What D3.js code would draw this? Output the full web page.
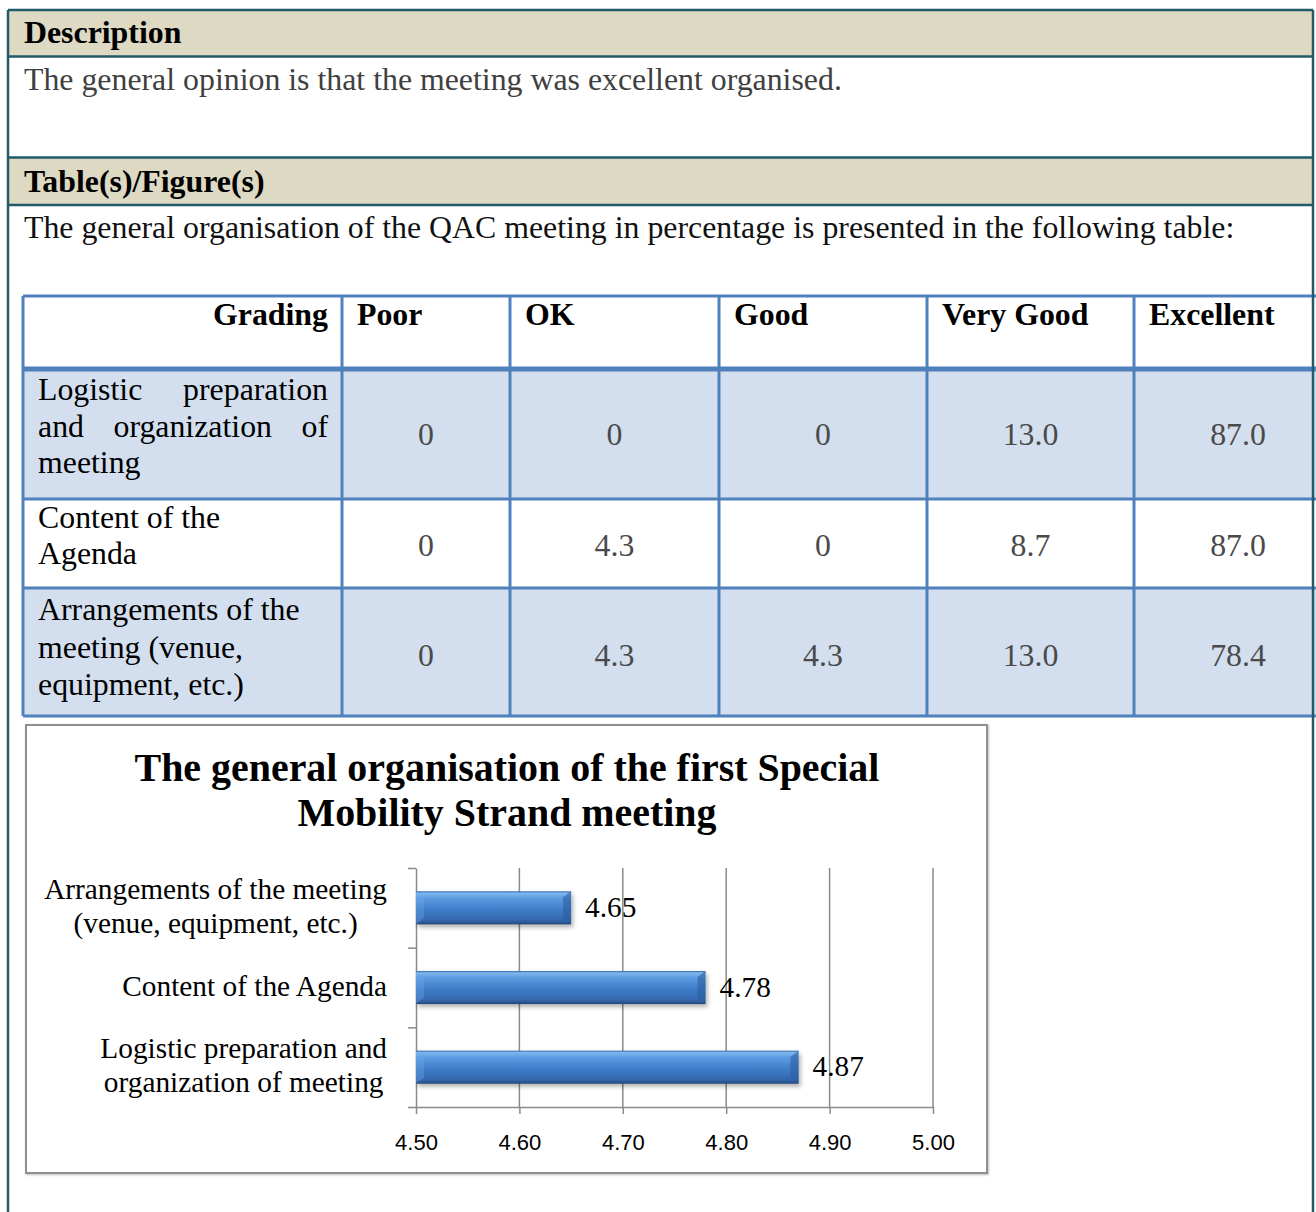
<!DOCTYPE html>
<html>
<head>
<meta charset="utf-8">
<script src="https://cdn.jsdelivr.net/npm/d3@7"></script>
<style>
  body { margin: 0; background: #fff; }
  svg { display: block; }
</style>
</head>
<body>
<script>
// table data (percentages)
const grades = ["Poor", "OK", "Good", "Very Good", "Excellent"]
const rowLabels = [
  ["Logistic preparation", "and organization of", "meeting"],
  ["Content of the", "Agenda"],
  ["Arrangements of the", "meeting (venue,", "equipment, etc.)"]
]
const logisticPct = [0, 0, 0, 13.0, 87.0]
const agendaPct = [0, 4.3, 0, 8.7, 87.0]
const arrangementsPct = [0, 4.3, 4.3, 13.0, 78.4]

// chart data (mean grade), bottom to top
const chartCategories = [
  ["Logistic preparation and", "organization of meeting"],
  ["Content of the Agenda"],
  ["Arrangements of the meeting", "(venue, equipment, etc.)"]
]
const chartValues = [4.87, 4.78, 4.65]
const xTicks = [4.50, 4.60, 4.70, 4.80, 4.90, 5.00]
const chartTitle = ["The general organisation of the first Special", "Mobility Strand meeting"]

const descText = "The general opinion is that the meeting was excellent organised."
const introText = "The general organisation of the QAC meeting in percentage is presented in the following table:"

const serif = "'Liberation Serif', 'Times New Roman', serif"
const sans = "'Liberation Sans', Arial, sans-serif"
const teal = "#215a69"
const beige = "#ddd9c3"
const tblue = "#4f81bd"

var svg = d3.select("body").append("svg")
  .attr("width", 1316)
  .attr("height", 1212)

var defs = svg.append("defs")

// pick a font size so a sample string gets the width seen in the picture
function fitSize(str, target, weight) {
  var t = svg.append("text")
    .style("font-family", serif).style("font-weight", weight || "normal").style("font-size", "100px")
    .text(str)
  var w = t.node().getComputedTextLength()
  t.remove()
  return 100 * target / w
}
var bodySize = fitSize(descText, 818)
var titleSize = fitSize(chartTitle[0], 745, "bold")
var labelSize = fitSize(chartCategories[2][0], 343)

function serifText(sel, size, weight) {
  return sel.style("font-family", serif).style("font-size", size + "px").style("font-weight", weight || "normal")
}

// ---- document frame ----
svg.append("rect").attr("x", 9).attr("y", 11).attr("width", 1303).attr("height", 45).attr("fill", beige)
svg.append("rect").attr("x", 9).attr("y", 158).attr("width", 1303).attr("height", 47).attr("fill", beige)

serifText(svg.append("text"), bodySize, "bold")
  .attr("x", 24).attr("y", 43)
  .text("Description")

serifText(svg.append("text"), bodySize)
  .attr("x", 24).attr("y", 90).attr("fill", "#404040")
  .text(descText)

serifText(svg.append("text"), bodySize, "bold")
  .attr("x", 24).attr("y", 192)
  .text("Table(s)/Figure(s)")

serifText(svg.append("text"), bodySize)
  .attr("x", 24).attr("y", 238).attr("fill", "#111")
  .text(introText)

// ---- table ----
var colEdges = [23, 342, 510, 719, 927, 1134, 1342]
var rowEdges = [296, 369, 499, 588, 716]
var rowFills = ["#d3dfee", "#ffffff", "#d3dfee"]
var rowValues = [logisticPct, agendaPct, arrangementsPct]
var fmt = function(v) { return v === 0 ? "0" : v.toFixed(1) }

var tbl = svg.append("g")

rowValues.forEach(function(vals, r) {
  tbl.append("rect")
    .attr("x", colEdges[0]).attr("y", rowEdges[r + 1])
    .attr("width", colEdges[6] - colEdges[0]).attr("height", rowEdges[r + 2] - rowEdges[r + 1])
    .attr("fill", rowFills[r])
})

// header
serifText(tbl.append("text"), bodySize, "bold")
  .attr("x", 328).attr("y", 325).attr("text-anchor", "end")
  .text("Grading")
serifText(tbl.selectAll(".hdr")
  .data(grades)
  .enter()
  .append("text"), bodySize, "bold")
    .attr("x", function(d, i) { return colEdges[i + 1] + 15 })
    .attr("y", 325)
    .text(function(d) { return d })

// row labels (first row is justified in the source)
var lineBase = [[400, 437, 473], [528, 564], [620, 658, 695]]
rowLabels.forEach(function(lines, r) {
  lines.forEach(function(line, k) {
    if (r == 0 && k < 2) {
      var words = line.split(" ")
      var ts = words.map(function(w) {
        return serifText(tbl.append("text"), bodySize).attr("y", lineBase[r][k]).attr("fill", "#000").text(w)
      })
      var ws = ts.map(function(t) { return t.node().getComputedTextLength() })
      var gap = (328 - 38 - d3.sum(ws)) / (words.length - 1)
      var cx = 38
      ts.forEach(function(t, j) { t.attr("x", cx); cx += ws[j] + gap })
    } else {
      serifText(tbl.append("text"), bodySize)
        .attr("x", 38).attr("y", lineBase[r][k]).attr("fill", "#000")
        .text(line)
    }
  })
})

// values
var valBase = [445, 556, 666]
rowValues.forEach(function(vals, r) {
  serifText(tbl.selectAll(".v" + r)
    .data(vals)
    .enter()
    .append("text"), bodySize)
      .attr("x", function(d, i) { return (colEdges[i + 1] + colEdges[i + 2]) / 2 })
      .attr("y", valBase[r])
      .attr("text-anchor", "middle")
      .attr("fill", "#4a4a4a")
      .text(fmt)
})

// grid lines
colEdges.forEach(function(x) {
  tbl.append("line").attr("x1", x).attr("x2", x).attr("y1", rowEdges[0]).attr("y2", rowEdges[4])
    .attr("stroke", tblue).attr("stroke-width", 3)
})
rowEdges.forEach(function(y, i) {
  tbl.append("line").attr("x1", colEdges[0]).attr("x2", colEdges[6]).attr("y1", y).attr("y2", y)
    .attr("stroke", tblue).attr("stroke-width", i == 1 ? 5 : 3)
})

// ---- chart ----
var shadow = defs.append("filter").attr("id", "shadow")
  .attr("x", "-5%").attr("y", "-20%").attr("width", "115%").attr("height", "160%")
shadow.append("feDropShadow").attr("dx", 2).attr("dy", 3).attr("stdDeviation", 2)
  .attr("flood-color", "#000").attr("flood-opacity", 0.3)

var boxShadow = defs.append("filter").attr("id", "boxshadow")
  .attr("x", "-2%").attr("y", "-2%").attr("width", "104%").attr("height", "104%")
boxShadow.append("feDropShadow").attr("dx", 1).attr("dy", 1).attr("stdDeviation", 1)
  .attr("flood-color", "#000").attr("flood-opacity", 0.25)

var grad = defs.append("linearGradient").attr("id", "barGrad")
  .attr("x1", 0).attr("y1", 0).attr("x2", 0).attr("y2", 1)
var stops = [[0, "#2f67ad"], [0.06, "#7fb8ee"], [0.2, "#5d9ce2"], [0.55, "#3e7cc8"], [0.85, "#3569b0"], [0.94, "#2b5a97"], [1, "#1d4273"]]
stops.forEach(function(s) {
  grad.append("stop").attr("offset", s[0]).attr("stop-color", s[1])
})

svg.append("rect")
  .attr("x", 26).attr("y", 725).attr("width", 961).attr("height", 448)
  .attr("fill", "#fff").attr("stroke", "#8f8f8f").attr("stroke-width", 2)
  .attr("filter", "url(#boxshadow)")

var title = serifText(svg.append("text"), titleSize, "bold")
  .attr("text-anchor", "middle")
title.selectAll("tspan")
  .data(chartTitle)
  .enter()
  .append("tspan")
    .attr("x", 507)
    .attr("y", function(d, i) { return 781 + i * 45 })
    .text(function(d) { return d })

var x = d3.scaleLinear()
  .domain([4.5, 5.0])
  .range([416, 933])

var y = d3.scaleBand()
  .domain(d3.range(chartValues.length).reverse())
  .range([868, 1107])
  .paddingInner(0.585)
  .paddingOuter(0.2925)

// vertical gridlines
svg.append("g")
  .selectAll("line")
  .data(xTicks.slice(1))
  .enter()
  .append("line")
    .attr("x1", function(d) { return x(d) }).attr("x2", function(d) { return x(d) })
    .attr("y1", 868).attr("y2", 1107)
    .attr("stroke", "#8a8a8a").attr("stroke-width", 1.5)

// x axis
var xAxis = svg.append("g")
  .attr("transform", "translate(0,1107)")
  .call(d3.axisBottom(x).tickValues(xTicks).tickFormat(d3.format(".2f")).tickSize(7).tickSizeOuter(0).tickPadding(20))
xAxis.select(".domain").attr("stroke", "#8a8a8a").attr("stroke-width", 1.5)
xAxis.selectAll(".tick line").attr("stroke", "#8a8a8a").attr("stroke-width", 1.5)
xAxis.selectAll(".tick text")
  .style("font-family", sans).style("font-size", "22px").attr("fill", "#000")

// y axis: ticks at band boundaries
var yEdge = d3.scaleLinear().domain([0, chartValues.length]).range([868, 1107])
var yAxis = svg.append("g")
  .attr("transform", "translate(416,0)")
  .call(d3.axisLeft(yEdge).tickValues(d3.range(chartValues.length + 1)).tickFormat("").tickSize(8).tickSizeOuter(0))
yAxis.select(".domain").attr("stroke", "#8a8a8a").attr("stroke-width", 1.5)
yAxis.selectAll(".tick line").attr("stroke", "#8a8a8a").attr("stroke-width", 1.5)

// category labels: lines centred within a block that ends near the axis
var labelRight = 387
chartCategories.forEach(function(lines, i) {
  var cy = y(i) + y.bandwidth() / 2
  var lh = 34
  var g = svg.append("g")
  var texts = lines.map(function(line, k) {
    return serifText(g.append("text"), labelSize)
      .attr("y", cy + (k - (lines.length - 1) / 2) * lh + 8)
      .attr("text-anchor", "middle")
      .attr("fill", "#000")
      .text(line)
  })
  var w = d3.max(texts, function(t) { return t.node().getComputedTextLength() })
  texts.forEach(function(t) { t.attr("x", labelRight - w / 2) })
})

// bars
svg.selectAll("mybar")
  .data(chartValues)
  .enter()
  .append("rect")
    .attr("x", x(4.5))
    .attr("y", function(d, i) { return y(i) })
    .attr("width", function(d) { return x(d) - x(4.5) })
    .attr("height", y.bandwidth())
    .attr("fill", "url(#barGrad)")
    .attr("filter", "url(#shadow)")

// bevel on the bar ends
svg.selectAll("mybevel")
  .data(chartValues)
  .enter()
  .append("path")
    .attr("d", function(d, i) {
      var x1 = x(d), y0 = y(i), h = y.bandwidth()
      return "M" + x1 + "," + y0 + "L" + (x1 - 8) + "," + (y0 + 6) + "L" + (x1 - 8) + "," + (y0 + h - 6) + "L" + x1 + "," + (y0 + h) + "Z"
    })
    .attr("fill", "#2c5e9e").attr("opacity", 0.6)
svg.selectAll("mybevel2")
  .data(chartValues)
  .enter()
  .append("path")
    .attr("d", function(d, i) {
      var x0 = x(4.5), y0 = y(i), h = y.bandwidth()
      return "M" + x0 + "," + y0 + "L" + (x0 + 8) + "," + (y0 + 6) + "L" + (x0 + 8) + "," + (y0 + h - 6) + "L" + x0 + "," + (y0 + h) + "Z"
    })
    .attr("fill", "#6fa8e8").attr("opacity", 0.35)

// data labels
serifText(svg.selectAll("mylabel")
  .data(chartValues)
  .enter()
  .append("text"), labelSize)
    .attr("x", function(d) { return x(d) + 14 })
    .attr("y", function(d, i) { return y(i) + y.bandwidth() / 2 + 9 })
    .attr("fill", "#000")
    .text(function(d) { return d.toFixed(2) })

// outer frame on top
var frame = svg.append("g").attr("stroke", teal).attr("stroke-width", 2.5)
frame.append("line").attr("x1", 8).attr("x2", 8).attr("y1", 10).attr("y2", 1212)
frame.append("line").attr("x1", 1313).attr("x2", 1313).attr("y1", 10).attr("y2", 1212)
;[10, 56.5, 157.5, 205].forEach(function(yy) {
  frame.append("line").attr("x1", 8).attr("x2", 1313).attr("y1", yy).attr("y2", yy)
})
</script>
</body>
</html>
